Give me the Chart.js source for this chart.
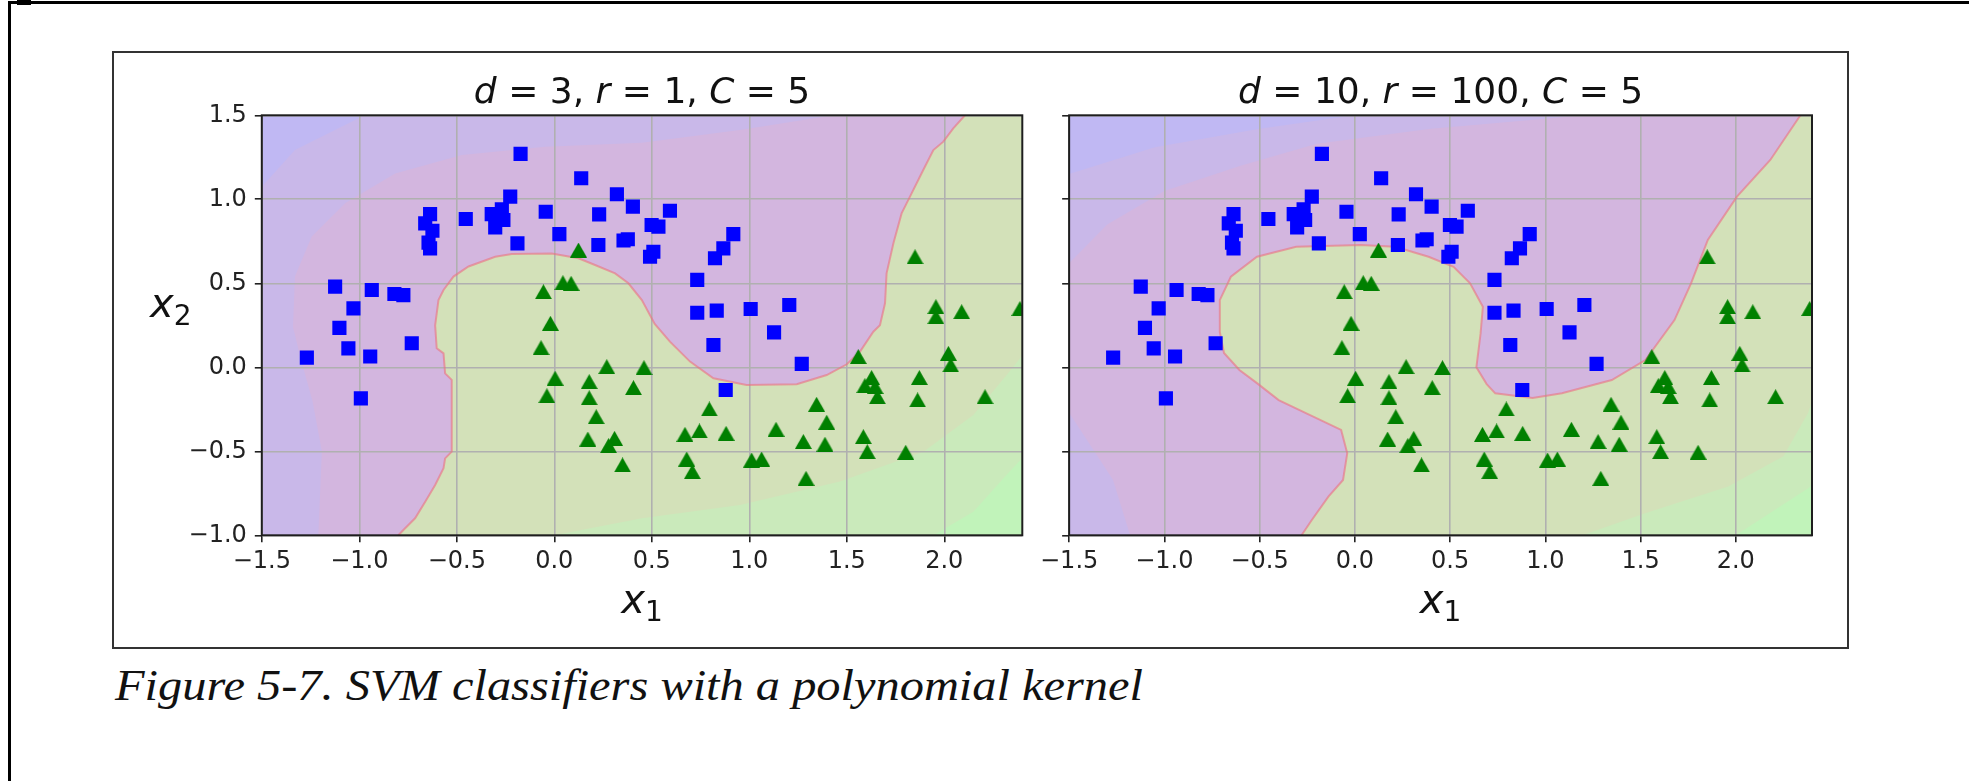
<!DOCTYPE html>
<html>
<head>
<meta charset="utf-8">
<script src="https://cdn.jsdelivr.net/npm/chart.js@4.4.1/dist/chart.umd.min.js"></script>
<style>
  html, body { margin:0; padding:0; background:#fff; }
  #page { position:relative; width:1969px; height:781px; overflow:hidden; background:#fff; }
  .rule { position:absolute; background:#000; }
  #figbox { position:absolute; left:112px; top:51px; width:1737px; height:598px; box-sizing:border-box; border:2px solid #333; }
  canvas { position:absolute; }
  #caption { position:absolute; left:115px; top:664px; font: italic 44px "Liberation Serif", serif; line-height:1; color:#111; white-space:nowrap; transform-origin:0 0; }
</style>
</head>
<body>
<div id="page">
  <div class="rule" style="left:8px;top:1px;width:1961px;height:3px"></div>
  <div class="rule" style="left:8px;top:1px;width:3px;height:780px"></div>
  <div class="rule" style="left:17px;top:0px;width:14px;height:5px"></div>
  <div id="figbox"></div>
  <canvas id="c1" width="922" height="596" style="left:113px;top:52px"></canvas>
  <canvas id="c2" width="813" height="596" style="left:1035px;top:52px"></canvas>
  <div id="caption">Figure 5-7. SVM classifiers with a polynomial kernel</div>
</div>
<script>
// ---------------- data ----------------
const xRange = [-1.5, 2.4];
const yRange = [-1.0, 1.5];
const xTicks = [-1.5, -1.0, -0.5, 0.0, 0.5, 1.0, 1.5, 2.0];
const xTickLabels = ['\u22121.5', '\u22121.0', '\u22120.5', '0.0', '0.5', '1.0', '1.5', '2.0'];
const yTicks = [-1.0, -0.5, 0.0, 0.5, 1.0, 1.5];
const yTickLabels = ['\u22121.0', '\u22120.5', '0.0', '0.5', '1.0', '1.5'];

// class 0 (blue squares)
const squaresX = [-0.173, 0.138, -0.226, 0.321, 0.403, -0.637, -0.454, -0.662, -0.625, -0.645, -0.637, -0.321, -0.269, -0.261, -0.303, -0.044, 0.230, 0.026, -0.189, 0.226, 0.377, 0.355, -1.124, -0.936, -0.820, -0.774, -1.030, -1.102, 0.593, 0.499, 0.534, 0.918, 0.867, 0.824, 0.508, 0.491, 0.733, 0.733, 0.833, 1.007, 1.205, -0.731, -1.056, -1.269, -0.944, -0.992, 1.127, 0.816, 1.269, 0.879];
const squaresY = [1.270, 1.125, 1.016, 1.030, 0.956, 0.912, 0.883, 0.857, 0.813, 0.742, 0.708, 0.912, 0.940, 0.877, 0.833, 0.926, 0.910, 0.793, 0.738, 0.728, 0.762, 0.755, 0.480, 0.460, 0.436, 0.430, 0.351, 0.235, 0.932, 0.847, 0.837, 0.793, 0.708, 0.649, 0.688, 0.658, 0.520, 0.325, 0.337, 0.347, 0.371, 0.143, 0.113, 0.058, 0.064, -0.185, 0.208, 0.133, 0.020, -0.135];
// class 1 (green triangles)
const trianglesX = [0.124, -0.056, 0.044, 0.086, -0.020, 1.850, 1.957, 1.957, 2.089, 2.388, -0.068, 0.269, 0.004, 0.179, 0.406, 0.460, -0.038, 0.179, 0.215, 0.172, 0.309, 0.278, 0.350, 1.559, 2.021, 2.033, 1.627, 1.593, 1.645, 1.657, 1.872, 1.863, 2.209, 1.345, 1.397, 0.795, 0.670, 0.744, 0.881, 1.137, 1.277, 1.388, 1.585, 1.605, 1.802, 0.679, 0.708, 1.012, 1.063, 1.291];
const trianglesY = [0.698, 0.450, 0.504, 0.500, 0.262, 0.658, 0.361, 0.301, 0.331, 0.350, 0.117, 0.004, -0.065, -0.085, -0.121, -0.002, -0.169, -0.181, -0.294, -0.427, -0.423, -0.466, -0.581, 0.064, 0.083, 0.014, -0.061, -0.109, -0.115, -0.175, -0.061, -0.194, -0.175, -0.220, -0.327, -0.248, -0.399, -0.379, -0.393, -0.369, -0.442, -0.458, -0.413, -0.502, -0.506, -0.546, -0.621, -0.552, -0.546, -0.661];

// decision boundary, d=3 r=1 (from bottom edge to top edge)
const leftBoundary = [[-0.800,-1.0],[-0.765,-0.958],[-0.714,-0.899],[-0.662,-0.800],[-0.611,-0.700],[-0.568,-0.601],[-0.560,-0.542],[-0.526,-0.502],[-0.526,-0.075],[-0.560,-0.036],[-0.568,0.083],[-0.603,0.113],[-0.611,0.250],[-0.594,0.400],[-0.568,0.460],[-0.517,0.540],[-0.440,0.600],[-0.303,0.658],[-0.218,0.674],[-0.013,0.678],[0.124,0.649],[0.209,0.609],[0.312,0.559],[0.380,0.500],[0.449,0.400],[0.515,0.258],[0.593,0.153],[0.696,0.034],[0.816,-0.065],[0.986,-0.105],[1.243,-0.101],[1.397,-0.046],[1.500,0.018],[1.568,0.093],[1.636,0.212],[1.670,0.250],[1.696,0.381],[1.704,0.559],[1.739,0.738],[1.781,0.916],[1.824,1.016],[1.892,1.174],[1.944,1.293],[1.995,1.343],[2.046,1.422],[2.106,1.500]];
// contour bands of the decision function, d=3
const leftBlueBand1 = [[-1.210,-1.0],[-1.192,-0.5],[-1.240,-0.2],[-1.300,0.05],[-1.340,0.24],[-1.330,0.54],[-1.244,0.778],[-1.073,0.976],[-0.816,1.154],[-0.474,1.264],[-0.047,1.313],[0.449,1.337],[0.952,1.412],[1.431,1.500]];
const leftBlueBand2 = [[-1.500,1.075],[-1.330,1.293],[-1.004,1.482],[-0.990,1.500]];
const leftGreenBand1 = [[0.000,-1.0],[0.449,-0.899],[0.952,-0.820],[1.465,-0.680],[1.893,-0.502],[2.149,-0.284],[2.320,-0.046],[2.400,0.070]];
const leftGreenBand2 = [[1.944,-1.0],[2.149,-0.860],[2.320,-0.640],[2.400,-0.540]];

// decision boundary, d=10 r=100
const rightBoundary = [[-0.280,-1.0],[-0.226,-0.909],[-0.139,-0.770],[-0.062,-0.671],[-0.040,-0.512],[-0.072,-0.373],[-0.400,-0.195],[-0.514,-0.094],[-0.606,-0.016],[-0.687,0.085],[-0.709,0.210],[-0.709,0.400],[-0.651,0.539],[-0.514,0.658],[-0.308,0.718],[0.031,0.728],[0.212,0.718],[0.387,0.658],[0.518,0.598],[0.605,0.500],[0.672,0.360],[0.660,0.200],[0.638,0.000],[0.692,-0.100],[0.737,-0.155],[0.933,-0.183],[1.087,-0.155],[1.349,-0.076],[1.525,0.043],[1.678,0.281],[1.765,0.500],[1.853,0.758],[2.006,1.016],[2.181,1.234],[2.333,1.490],[2.340,1.500]];
const rightBlueBand1 = [[-1.500,0.620],[-1.300,0.850],[-1.000,1.050],[-0.600,1.200],[-0.200,1.330],[0.400,1.420],[1.000,1.480],[1.200,1.500]];
const rightBlueBand2 = [[-1.500,1.150],[-1.050,1.310],[-0.500,1.420],[0.000,1.500]];
const rightBlueBand3 = [[-1.500,-0.270],[-1.270,-0.670],[-1.180,-1.0]];
const rightGreenBand1 = [[1.195,-1.0],[1.520,-0.870],[1.960,-0.710],[2.250,-0.530],[2.380,-0.270],[2.400,-0.200]];
const rightGreenBand2 = [[2.000,-1.0],[2.380,-0.720],[2.400,-0.700]];

// ---------------- styles ----------------
const COL = {
  purple: 'rgb(211,182,223)', blue1: 'rgb(201,184,233)', blue2: 'rgb(192,184,243)',
  green: 'rgb(211,225,185)', green1: 'rgb(202,234,187)', green2: 'rgb(193,243,186)',
  edge: 'rgba(236,112,128,0.6)', square: '#0000ff', tri: '#008000',
  grid: '#b0b0b0', tick: '#222222', spine: '#1e1e1e'
};
const FONT = '"DejaVu Sans"';

// ---------------- helpers ----------------
const toXY = (xs, ys) => xs.map((x, i) => ({x, y: ys[i]}));
const toPts = arr => arr.map(p => ({x: p[0], y: p[1]}));
const closed = (curve, corners) => toPts(curve.concat(corners, [curve[0]]));

const triImg = (() => {
  const c = document.createElement('canvas');
  c.width = 17; c.height = 15;
  const g = c.getContext('2d');
  g.fillStyle = COL.tri;
  g.beginPath(); g.moveTo(8.5, 0); g.lineTo(17, 15); g.lineTo(0, 15); g.closePath(); g.fill();
  return c;
})();

function regionDS(data, color, order) {
  return {data, fill: 'shape', backgroundColor: color, borderWidth: 0, pointRadius: 0, pointHoverRadius: 0, order, clip: 0, tension: 0};
}
function edgeDS(curve) {
  return {data: toPts(curve), fill: false, borderColor: COL.edge, borderWidth: 2, pointRadius: 0, pointHoverRadius: 0, order: 10, clip: 0, tension: 0};
}

function drawParts(ctx, parts, x, y, align) {
  let total = 0;
  for (const p of parts) { ctx.font = p.f; p.w = ctx.measureText(p.t).width; total += p.w; }
  let cx = align === 'center' ? x - total / 2 : x;
  for (const p of parts) { ctx.font = p.f; ctx.fillText(p.t, cx, y + (p.dy || 0)); cx += p.w; }
}

const decor = {
  id: 'decor',
  afterDraw(chart, args, o) {
    const {ctx, chartArea: a} = chart;
    ctx.save();
    ctx.strokeStyle = COL.spine; ctx.lineWidth = 2;
    ctx.strokeRect(a.left, a.top, a.right - a.left, a.bottom - a.top);
    ctx.fillStyle = '#111'; ctx.textBaseline = 'alphabetic'; ctx.textAlign = 'left';
    const cx = (a.left + a.right) / 2;
    drawParts(ctx, o.title, cx, o.titleY, 'center');
    drawParts(ctx, o.xlabel, cx, o.xlabelY, 'center');
    if (o.ylabel) drawParts(ctx, o.ylabel, o.ylabelX, o.ylabelY, 'left');
    ctx.restore();
  }
};

const IT = s => `italic ${s}px ${FONT}`;
const RM = s => `${s}px ${FONT}`;
const xLabelParts = [{t: 'x', f: IT(40)}, {t: '1', f: RM(28), dy: 8}];
const yLabelParts = [{t: 'x', f: IT(40)}, {t: '2', f: RM(28), dy: 8}];

function build(id, cfg) {
  const ds = [];
  let ord = 100;
  for (const r of cfg.regions) ds.push(regionDS(r.data, r.color, ord--));
  ds.push(edgeDS(cfg.boundary));
  ds.push({data: toXY(squaresX, squaresY), showLine: false, pointStyle: 'rect', pointRadius: 10, pointBackgroundColor: COL.square, pointBorderWidth: 0, order: 2, clip: 0});
  ds.push({data: toXY(trianglesX, trianglesY), showLine: false, pointStyle: triImg, pointRadius: 8, pointBorderWidth: 0, order: 1, clip: 0});

  return new Chart(document.getElementById(id), {
    type: 'line',
    data: {datasets: ds},
    plugins: [decor],
    options: {
      responsive: false, animation: false, devicePixelRatio: 1, events: [],
      layout: {padding: cfg.padding},
      plugins: {
        legend: {display: false}, tooltip: {enabled: false},
        filler: {drawTime: 'beforeDraw', propagate: false},
        decor: cfg.decor
      },
      scales: {
        x: {
          type: 'linear', min: xRange[0], max: xRange[1],
          afterBuildTicks: s => { s.ticks = xTicks.map(v => ({value: v})); },
          afterFit: s => { s.height = cfg.xAxisH; },
          ticks: {callback: v => xTickLabels[xTicks.indexOf(v)], font: {family: 'DejaVu Sans', size: 24}, color: COL.tick, padding: 5, maxRotation: 0, autoSkip: false},
          grid: {color: COL.grid, lineWidth: 1.6, tickColor: COL.tick, tickWidth: 1.6, tickLength: 7, drawTicks: true},
          border: {display: false}
        },
        y: {
          type: 'linear', min: yRange[0], max: yRange[1],
          afterBuildTicks: s => { s.ticks = yTicks.map(v => ({value: v})); },
          afterFit: s => { s.width = cfg.yAxisW; },
          ticks: {display: cfg.yLabels, callback: v => yTickLabels[yTicks.indexOf(v)], font: {family: 'DejaVu Sans', size: 24}, color: COL.tick, padding: 8, autoSkip: false},
          grid: {color: COL.grid, lineWidth: 1.6, tickColor: COL.tick, tickWidth: 1.6, tickLength: 7, drawTicks: true},
          border: {display: false}
        }
      }
    }
  });
}

const FULL = [[-1.7,-1.2],[2.6,-1.2],[2.6,1.7],[-1.7,1.7]];

build('c1', {
  padding: {left: 0, top: 63.3, right: 12.7, bottom: 0},
  yAxisW: 148.8, xAxisH: 112.7, yLabels: true,
  boundary: leftBoundary,
  regions: [
    {data: toPts(FULL), color: COL.purple},
    {data: closed(leftBlueBand1, [[1.431,1.7],[-1.7,1.7],[-1.7,-1.2],[-1.21,-1.2]]), color: COL.blue1},
    {data: closed(leftBlueBand2, [[-0.99,1.7],[-1.7,1.7],[-1.7,1.075]]), color: COL.blue2},
    {data: closed(leftBoundary, [[2.106,1.7],[2.6,1.7],[2.6,-1.2],[-0.8,-1.2]]), color: COL.green},
    {data: closed(leftGreenBand1, [[2.6,0.07],[2.6,-1.2],[0.0,-1.2]]), color: COL.green1},
    {data: closed(leftGreenBand2, [[2.6,-0.54],[2.6,-1.2],[1.944,-1.2]]), color: COL.green2}
  ],
  decor: {
    title: [{t: 'd', f: IT(36)}, {t: ' = 3, ', f: RM(36)}, {t: 'r', f: IT(36)}, {t: ' = 1, ', f: RM(36)}, {t: 'C', f: IT(36)}, {t: ' = 5', f: RM(36)}],
    titleY: 51.3, xlabel: xLabelParts, xlabelY: 561,
    ylabel: yLabelParts, ylabelX: 37, ylabelY: 264.7
  }
});

build('c2', {
  padding: {left: 0, top: 63.3, right: 36, bottom: 0},
  yAxisW: 16.5, xAxisH: 112.7, yLabels: false,
  boundary: rightBoundary,
  regions: [
    {data: toPts(FULL), color: COL.purple},
    {data: closed(rightBlueBand1, [[1.2,1.7],[-1.7,1.7],[-1.7,0.62]]), color: COL.blue1},
    {data: closed(rightBlueBand2, [[0.0,1.7],[-1.7,1.7],[-1.7,1.15]]), color: COL.blue2},
    {data: closed(rightBlueBand3, [[-1.18,-1.2],[-1.7,-1.2],[-1.7,-0.27]]), color: COL.blue1},
    {data: closed(rightBoundary, [[2.34,1.7],[2.6,1.7],[2.6,-1.2],[-0.28,-1.2]]), color: COL.green},
    {data: closed(rightGreenBand1, [[2.6,-0.2],[2.6,-1.2],[1.195,-1.2]]), color: COL.green1},
    {data: closed(rightGreenBand2, [[2.6,-0.7],[2.6,-1.2],[2.0,-1.2]]), color: COL.green2}
  ],
  decor: {
    title: [{t: 'd', f: IT(36)}, {t: ' = 10, ', f: RM(36)}, {t: 'r', f: IT(36)}, {t: ' = 100, ', f: RM(36)}, {t: 'C', f: IT(36)}, {t: ' = 5', f: RM(36)}],
    titleY: 51.3, xlabel: xLabelParts, xlabelY: 561
  }
});

// caption width fit
const cap = document.getElementById('caption');
const w = cap.getBoundingClientRect().width;
cap.style.transform = `scaleX(${(1028 / w).toFixed(4)})`;
</script>
</body>
</html>
